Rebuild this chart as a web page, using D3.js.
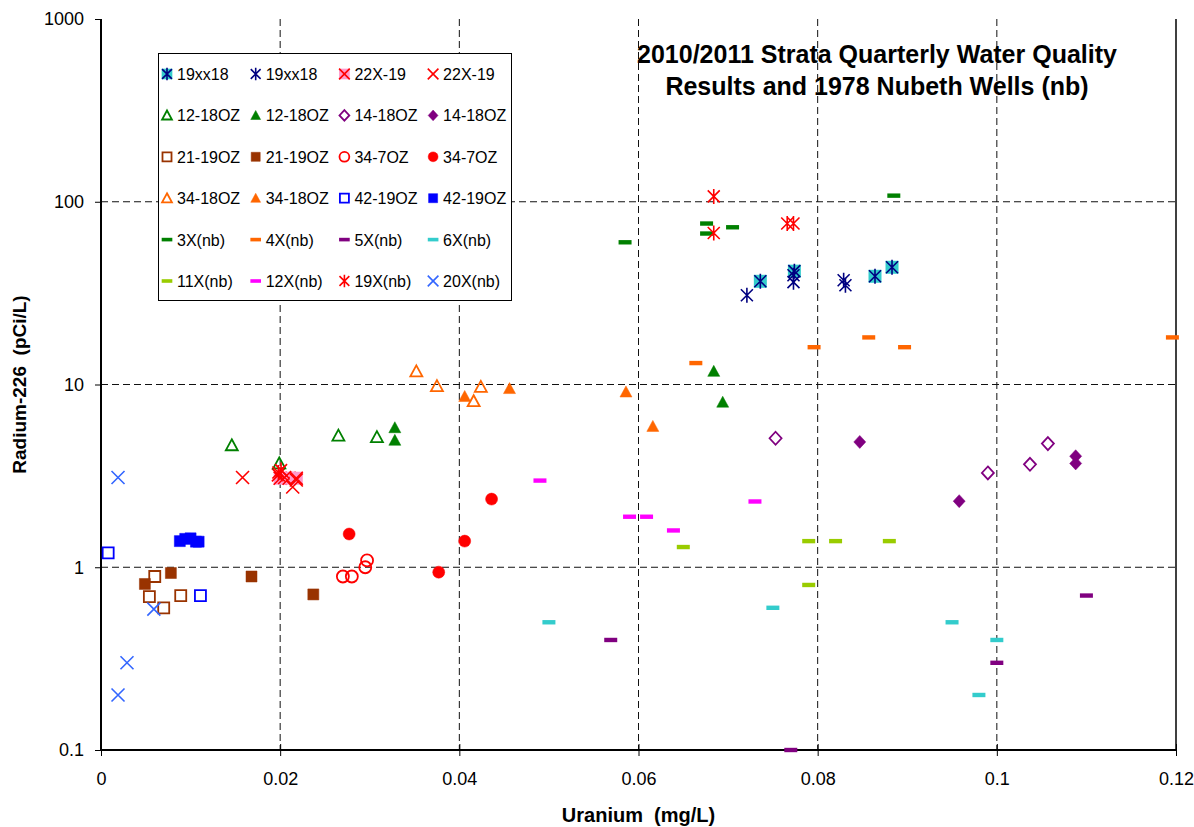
<!DOCTYPE html>
<html>
<head>
<meta charset="utf-8">
<script src="https://cdn.jsdelivr.net/npm/d3@7"></script>
<style>
  body { margin: 0; background: #fff; }
  text { font-family: "Liberation Sans", Arial, sans-serif; }
</style>
</head>
<body>
<div id="chart"></div>
<script>
// values are [uranium mg/L, radium-226 pCi/L]
const s19xx18Box = [[0.0736, 36.7], [0.0774, 41.7], [0.0864, 39.1], [0.0883, 43.8]];
const s19xx18 = [[0.0721, 30.8], [0.0773, 39.6], [0.0773, 36.3], [0.0829, 37.2], [0.0831, 34.9]];
const s22X19Box = [[0.0200, 3.07], [0.0210, 3.07], [0.0218, 3.07]];
const s22X19 = [[0.0158, 3.1], [0.0198, 3.2], [0.0205, 3.1], [0.0214, 2.75], [0.0218, 3.0]];
const s12_18OZopen = [[0.0146, 4.65], [0.0199, 3.7], [0.0265, 5.25], [0.0308, 5.15]];
const s12_18OZ = [[0.0328, 5.8], [0.0328, 4.95], [0.0684, 11.8], [0.0694, 8.0]];
const s14_18OZopen = [[0.0753, 5.08], [0.0990, 3.28], [0.1037, 3.66], [0.1057, 4.75]];
const s14_18OZ = [[0.0847, 4.85], [0.0958, 2.3], [0.1088, 4.05], [0.1088, 3.7]];
const s21_19OZopen = [[0.0060, 0.89], [0.0054, 0.69], [0.0089, 0.70], [0.0070, 0.60]];
const s21_19OZ = [[0.0078, 0.93], [0.0049, 0.81], [0.0168, 0.89], [0.0237, 0.71]];
const s34_7OZopen = [[0.0270, 0.89], [0.0280, 0.89], [0.0295, 1.0], [0.0297, 1.09]];
const s34_7OZ = [[0.0277, 1.52], [0.0377, 0.94], [0.0406, 1.39], [0.0436, 2.36]];
const s34_18OZopen = [[0.0352, 11.8], [0.0375, 9.8], [0.0424, 9.7], [0.0416, 8.1]];
const s34_18OZ = [[0.0406, 8.6], [0.0456, 9.5], [0.0586, 9.1], [0.0616, 5.9]];
const s42_19OZopen = [[0.0008, 1.2], [0.0111, 0.70]];
const s42_19OZ = [[0.0088, 1.39], [0.0094, 1.43], [0.0100, 1.44], [0.0106, 1.38], [0.0109, 1.38]];
const s3Xnb = [[0.0585, 60], [0.0676, 76], [0.0676, 67], [0.0705, 72.5], [0.0885, 108]];
const s4Xnb = [[0.0664, 13.1], [0.0796, 16], [0.0857, 18.1], [0.0897, 16], [0.1196, 18.1]];
const s5Xnb = [[0.0569, 0.40], [0.0770, 0.10], [0.1000, 0.30], [0.1100, 0.70]];
const s6Xnb = [[0.0500, 0.50], [0.0750, 0.60], [0.0950, 0.50], [0.1000, 0.40], [0.0980, 0.20]];
const s11Xnb = [[0.0650, 1.29], [0.0790, 1.39], [0.0820, 1.39], [0.0880, 1.39], [0.0790, 0.80]];
const s12Xnb = [[0.0490, 2.98], [0.0590, 1.89], [0.0609, 1.89], [0.0639, 1.59], [0.0730, 2.29]];
const s19Xnb = [[0.0684, 107], [0.0684, 67.5], [0.0766, 76], [0.0773, 76], [0.0198, 3.3], [0.0201, 3.4]];
const s20Xnb = [[0.0019, 3.1], [0.0029, 0.30], [0.0019, 0.20], [0.0059, 0.59]];

const seriesNames = ["19xx18", "19xx18", "22X-19", "22X-19",
  "12-18OZ", "12-18OZ", "14-18OZ", "14-18OZ",
  "21-19OZ", "21-19OZ", "34-7OZ", "34-7OZ",
  "34-18OZ", "34-18OZ", "42-19OZ", "42-19OZ",
  "3X(nb)", "4X(nb)", "5X(nb)", "6X(nb)",
  "11X(nb)", "12X(nb)", "19X(nb)", "20X(nb)"];

const seriesValues = [s19xx18Box, s19xx18, s22X19Box, s22X19,
  s12_18OZopen, s12_18OZ, s14_18OZopen, s14_18OZ,
  s21_19OZopen, s21_19OZ, s34_7OZopen, s34_7OZ,
  s34_18OZopen, s34_18OZ, s42_19OZopen, s42_19OZ,
  s3Xnb, s4Xnb, s5Xnb, s6Xnb, s11Xnb, s12Xnb, s19Xnb, s20Xnb];

const xTicks = [0, 0.02, 0.04, 0.06, 0.08, 0.1, 0.12];
const yTicks = [0.1, 1, 10, 100, 1000];

// marker look, same order as the series
const seriesStyles = [
  { shape: "star", color: "#000080", box: "#33CCCC" },
  { shape: "star", color: "#000080" },
  { shape: "x", color: "#FF0000", box: "#FF99CC" },
  { shape: "x", color: "#FF0000" },
  { shape: "triangle", color: "#008000", open: true },
  { shape: "triangle", color: "#008000" },
  { shape: "diamond", color: "#800080", open: true },
  { shape: "diamond", color: "#800080" },
  { shape: "square", color: "#993300", open: true },
  { shape: "square", color: "#993300" },
  { shape: "circle", color: "#FF0000", open: true },
  { shape: "circle", color: "#FF0000" },
  { shape: "triangle", color: "#FF6600", open: true },
  { shape: "triangle", color: "#FF6600" },
  { shape: "square", color: "#0000FF", open: true },
  { shape: "square", color: "#0000FF" },
  { shape: "dash", color: "#008000" },
  { shape: "dash", color: "#FF6600" },
  { shape: "dash", color: "#800080" },
  { shape: "dash", color: "#33CCCC" },
  { shape: "dash", color: "#99CC00" },
  { shape: "dash", color: "#FF00FF" },
  { shape: "star", color: "#FF0000" },
  { shape: "x", color: "#3366FF" }
];

const width = 1194, height = 827;
const plot = { left: 101, right: 1176, top: 19, bottom: 750 };

const svg = d3.select("#chart").append("svg")
  .attr("width", width)
  .attr("height", height);

const x = d3.scaleLinear().domain([0, 0.12]).range([plot.left, plot.right]);
const y = d3.scaleLog().domain([0.1, 1000]).range([plot.bottom, plot.top]);

// gridlines
svg.append("g").selectAll("line")
  .data(xTicks.slice(1, -1))
  .join("line")
  .attr("x1", d => x(d)).attr("x2", d => x(d))
  .attr("y1", plot.top).attr("y2", plot.bottom)
  .attr("stroke", "#111").attr("stroke-width", 1)
  .attr("stroke-dasharray", "7,4");

svg.append("g").selectAll("line")
  .data(yTicks.slice(1, -1))
  .join("line")
  .attr("x1", plot.left).attr("x2", plot.right)
  .attr("y1", d => y(d)).attr("y2", d => y(d))
  .attr("stroke", "#111").attr("stroke-width", 1)
  .attr("stroke-dasharray", "7,4");

// right border
svg.append("line")
  .attr("x1", plot.right).attr("x2", plot.right)
  .attr("y1", plot.top).attr("y2", plot.bottom)
  .attr("stroke", "#000").attr("stroke-width", 1.5);

// axes
const xAxis = svg.append("g")
  .attr("transform", `translate(0,${plot.bottom})`)
  .call(d3.axisBottom(x).tickValues(xTicks).tickFormat(d => d3.format("")(d)).tickSize(6).tickPadding(16));
xAxis.selectAll(".tick line").attr("y1", -6).attr("stroke-width", 1);
xAxis.select(".domain").attr("stroke-width", 2).attr("d", `M${plot.left},0H${plot.right}`);
xAxis.selectAll("text").attr("font-size", 18).attr("fill", "#000")
  .style("font-family", "'Liberation Sans', Arial, sans-serif");

const yAxis = svg.append("g")
  .attr("transform", `translate(${plot.left},0)`)
  .call(d3.axisLeft(y).tickValues(yTicks).tickFormat(d => String(d)).tickSize(6).tickPadding(11));
yAxis.select(".domain").attr("stroke-width", 2).attr("d", `M0,${plot.top}V${plot.bottom}`);
yAxis.selectAll("text").attr("font-size", 18).attr("fill", "#000")
  .style("font-family", "'Liberation Sans', Arial, sans-serif");

// axis titles
svg.append("text")
  .attr("x", (plot.left + plot.right) / 2)
  .attr("y", 822)
  .attr("text-anchor", "middle")
  .attr("font-size", 20)
  .attr("font-weight", "bold")
  .attr("xml:space", "preserve")
  .text("Uranium  (mg/L)");

svg.append("text")
  .attr("transform", `translate(26,${(plot.top + plot.bottom) / 2}) rotate(-90)`)
  .attr("text-anchor", "middle")
  .attr("font-size", 19)
  .attr("font-weight", "bold")
  .attr("xml:space", "preserve")
  .text("Radium-226  (pCi/L)");

// chart title
const title = svg.append("text")
  .attr("text-anchor", "middle")
  .attr("font-size", 25)
  .attr("font-weight", "bold");
title.append("tspan").attr("x", 877).attr("y", 63).text("2010/2011 Strata Quarterly Water Quality");
title.append("tspan").attr("x", 877).attr("y", 95).text("Results and 1978 Nubeth Wells (nb)");

// marker paths
function markerPath(shape, k) {
  const s = v => v * k;
  switch (shape) {
    case "triangle": return `M0,${s(-6)}L${s(6)},${s(5)}L${s(-6)},${s(5)}Z`;
    case "square": return `M${s(-5.5)},${s(-5.5)}h${s(11)}v${s(11)}h${s(-11)}Z`;
    case "box": return `M${s(-6.5)},${s(-6.5)}h${s(13)}v${s(13)}h${s(-13)}Z`;
    case "diamond": return `M0,${s(-6.5)}L${s(6)},0L0,${s(6.5)}L${s(-6)},0Z`;
    case "circle": return `M${s(6)},0A${s(6)},${s(6)} 0 1,1 ${s(-6)},0A${s(6)},${s(6)} 0 1,1 ${s(6)},0Z`;
    case "x": return `M${s(-6.5)},${s(-6.5)}L${s(6.5)},${s(6.5)}M${s(-6.5)},${s(6.5)}L${s(6.5)},${s(-6.5)}`;
    case "star": return `M${s(-6)},${s(-6)}L${s(6)},${s(6)}M${s(-6)},${s(6)}L${s(6)},${s(-6)}M0,${s(-7.5)}L0,${s(7.5)}`;
    case "dash": return `M${s(-6.5)},${s(-2.2)}h${s(13)}v${s(4.4)}h${s(-13)}Z`;
  }
}

function drawMarker(g, st, k) {
  if (st.box) {
    g.append("path")
      .attr("d", markerPath("box", k))
      .attr("fill", st.box);
  }
  const lineShape = st.shape === "x" || st.shape === "star";
  g.append("path")
    .attr("d", markerPath(st.shape, k))
    .attr("fill", lineShape || st.open ? "none" : st.color)
    .attr("stroke", st.shape === "dash" ? "none" : st.color)
    .attr("stroke-width", lineShape ? 1.6 : (st.open ? 1.8 : 0.5));
}

// data points
const pts = svg.append("g");
seriesValues.forEach((vals, i) => {
  vals.forEach(d => {
    const g = pts.append("g").attr("transform", `translate(${x(d[0])},${y(d[1])})`);
    drawMarker(g, seriesStyles[i], 1);
  });
});

// legend
const legend = svg.append("g");
legend.append("rect")
  .attr("x", 158.5).attr("y", 53.5)
  .attr("width", 353).attr("height", 247)
  .attr("fill", "#fff").attr("stroke", "#000").attr("stroke-width", 1);

seriesNames.forEach((name, i) => {
  const col = i % 4, row = Math.floor(i / 4);
  const lx = 167 + col * 88.7, ly = 74 + row * 41.4;
  const g = legend.append("g").attr("transform", `translate(${lx},${ly})`);
  drawMarker(g, seriesStyles[i], 0.82);
  legend.append("text")
    .attr("x", lx + 10)
    .attr("y", ly + 6)
    .attr("font-size", 16)
    .text(name);
});
</script>
</body>
</html>
